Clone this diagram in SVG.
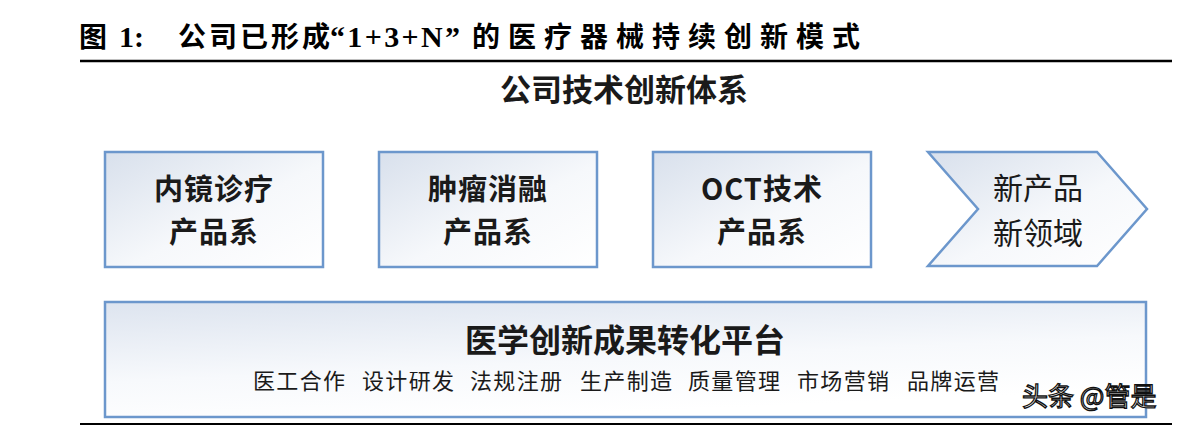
<svg xmlns="http://www.w3.org/2000/svg" width="1192" height="426" viewBox="0 0 1192 426">
<defs>
<linearGradient id="fillg" x1="0" y1="0" x2="1" y2="1">
<stop offset="0" stop-color="#d8e0ec"/>
<stop offset="0.55" stop-color="#f6f8fb"/>
<stop offset="1" stop-color="#ffffff"/>
</linearGradient>
<linearGradient id="fillw" x1="0" y1="0" x2="0.4" y2="1">
<stop offset="0" stop-color="#dde4ef"/>
<stop offset="0.6" stop-color="#f7f9fc"/>
<stop offset="1" stop-color="#ffffff"/>
</linearGradient>
<style>
.box{fill:url(#fillg);stroke:#6c97cc;stroke-width:2.5}
.wide{fill:url(#fillw);stroke:#6c97cc;stroke-width:2.5}
.cjk{font-family:"Noto Sans CJK SC","Liberation Sans",sans-serif;fill:#1a1a1a}
.node{font-size:29px;font-weight:700;text-anchor:middle;letter-spacing:1px}
.ttl{font-family:"Liberation Serif","Noto Sans CJK SC",serif;font-size:28px;font-weight:700;fill:#000}
.rule{stroke:#000;stroke-width:2.5}
</style>
</defs>
<g id="title">
<text class="ttl" x="79" y="47">图</text>
<text class="ttl" x="119" y="47" style="font-size:30px">1:</text>
<text class="ttl" x="178" y="47" textLength="152" lengthAdjust="spacing">公司已形成</text>
<text class="ttl" x="330" y="47" style="font-size:30px" textLength="130" lengthAdjust="spacing">“1+3+N”</text>
<text class="ttl" x="472" y="47" textLength="388" lengthAdjust="spacing">的医疗器械持续创新模式</text>
<line class="rule" x1="80" y1="61" x2="1172" y2="61"/>
<line class="rule" x1="80" y1="424" x2="1172" y2="424" style="stroke-width:2"/>
</g>
<g id="heading">
<text class="cjk" x="624" y="101" style="font-size:31px;font-weight:700;text-anchor:middle">公司技术创新体系</text>
</g>
<g id="node-endoscope">
<rect class="box" x="105" y="152" width="218" height="115"/>
<text class="cjk node"><tspan x="214" y="200">内镜诊疗</tspan><tspan x="214" y="243">产品系</tspan></text>
</g>
<g id="node-tumor">
<rect class="box" x="379" y="152" width="218" height="115"/>
<text class="cjk node"><tspan x="488" y="200">肿瘤消融</tspan><tspan x="488" y="243">产品系</tspan></text>
</g>
<g id="node-oct">
<rect class="box" x="653" y="152" width="218" height="115"/>
<text class="cjk node"><tspan x="762" y="200">OCT技术</tspan><tspan x="762" y="243">产品系</tspan></text>
</g>
<g id="node-new">
<polygon class="box" points="928,152 1097,152 1147,209 1097,266 928,266 978,209"/>
<text class="cjk node" style="font-weight:400;font-size:30px;letter-spacing:0"><tspan x="1038" y="199">新产品</tspan><tspan x="1038" y="244">新领域</tspan></text>
</g>
<g id="node-platform">
<rect class="wide" x="105" y="302" width="1041" height="115"/>
<text class="cjk" x="625" y="352" style="font-size:32px;font-weight:700;text-anchor:middle">医学创新成果转化平台</text>
<g class="cjk" style="font-size:22px">
<text x="253" y="389" textLength="92">医工合作</text>
<text x="362" y="389" textLength="92">设计研发</text>
<text x="470" y="389" textLength="92">法规注册</text>
<text x="580" y="389" textLength="92">生产制造</text>
<text x="688" y="389" textLength="92">质量管理</text>
<text x="797" y="389" textLength="92">市场营销</text>
<text x="907" y="389" textLength="92">品牌运营</text>
</g>
</g>
<g id="connectors"/>
<g id="watermark">
<text x="1022" y="406" style="font-family:'Noto Sans CJK SC',sans-serif;font-size:26px;fill:#fff;stroke:#111;stroke-width:1.3">头条 @管是</text>
</g>
</svg>
